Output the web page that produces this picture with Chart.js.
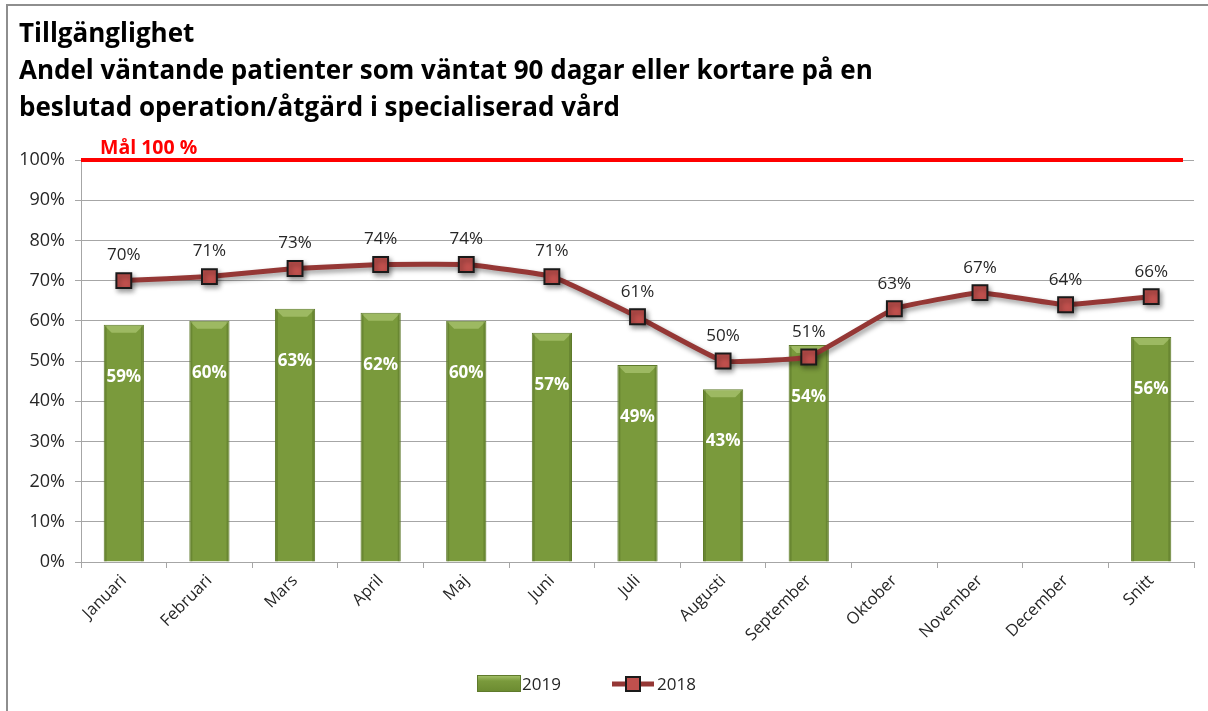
<!DOCTYPE html>
<html>
<head>
<meta charset="utf-8">
<script src="https://cdn.jsdelivr.net/npm/chart.js@4/dist/chart.umd.min.js"></script>
<style>
  html, body { margin: 0; padding: 0; background: #fff; }
  canvas { display: block; }
</style>
</head>
<body>
<canvas id="tillganglighet" width="1208" height="711"></canvas>
<script>
// Months plus the yearly average column
const months = ['Januari', 'Februari', 'Mars', 'April', 'Maj', 'Juni', 'Juli', 'Augusti',
  'September', 'Oktober', 'November', 'December', 'Snitt'];
// Share of patients waiting 90 days or less (%)
const values2019 = [59, 60, 63, 62, 60, 57, 49, 43, 54, null, null, null, 56];
const values2018 = [70, 71, 73, 74, 74, 71, 61, 50, 51, 63, 67, 64, 66];
const yTicks = [0, 10, 20, 30, 40, 50, 60, 70, 80, 90, 100];
const goal = 100;

const titleLines = [
  'Tillgänglighet',
  'Andel väntande patienter som väntat 90 dagar eller kortare på en',
  'beslutad operation/åtgärd i specialiserad vård'
];

const FONT = '"Open Sans", Lato, sans-serif';
const barGreen = '#7a9a3c';
const lineRed = '#953735';
const markerRed = '#c0504d';
const textDark = '#262626';

// white background, frame and the title block
const frame = {
  id: 'frame',
  beforeDraw(chart) {
    const c = chart.ctx;
    c.save();
    c.fillStyle = '#fff';
    c.fillRect(0, 0, chart.width, chart.height);
    c.strokeStyle = '#8e8e8e';
    c.lineWidth = 2;
    c.beginPath();
    c.moveTo(7, chart.height);
    c.lineTo(7, 5);
    c.lineTo(chart.width, 5);
    c.stroke();
    c.fillStyle = '#000';
    c.font = 'bold 26px ' + FONT;
    c.textBaseline = 'middle';
    titleLines.forEach((t, i) => c.fillText(t, 19, 35 + i * 37));
    c.restore();
  }
};

// goal line at 100 %
const goalLine = {
  id: 'goalLine',
  afterDatasetsDraw(chart) {
    const c = chart.ctx, a = chart.chartArea;
    const y = chart.scales.y.getPixelForValue(goal);
    c.save();
    c.strokeStyle = '#ff0000';
    c.lineWidth = 4;
    c.beginPath();
    c.moveTo(a.left, y);
    c.lineTo(a.right - 11, y);
    c.stroke();
    c.fillStyle = '#ff0000';
    c.font = 'bold 19.5px ' + FONT;
    c.textBaseline = 'middle';
    c.fillText('Mål 100 %', 100, y - 12);
    c.restore();
  }
};

// bevel on the bars, shadow under the 2018 line
const shading = {
  id: 'shading',
  beforeDatasetDraw(chart, args) {
    if (args.index !== 1) return;
    const c = chart.ctx;
    c.save();
    c.shadowColor = 'rgba(0,0,0,0.4)';
    c.shadowBlur = 5;
    c.shadowOffsetX = 2;
    c.shadowOffsetY = 3;
  },
  afterDatasetDraw(chart, args) {
    const c = chart.ctx;
    if (args.index === 1) {
      c.restore();
      return;
    }
    c.save();
    args.meta.data.forEach((bar, i) => {
      if (values2019[i] == null) return;
      const w = bar.width, x0 = bar.x - w / 2, x1 = bar.x + w / 2, t = bar.y;
      c.fillStyle = 'rgba(200,225,145,0.45)';
      c.beginPath();
      c.moveTo(x0 + 1, t + 1);
      c.lineTo(x1 - 1, t + 1);
      c.lineTo(x1 - 8, t + 8);
      c.lineTo(x0 + 8, t + 8);
      c.closePath();
      c.fill();
      c.fillStyle = 'rgba(40,60,10,0.2)';
      c.fillRect(x0 + 1, t + 1, 2, bar.base - t - 1);
      c.fillRect(x1 - 3, t + 1, 2, bar.base - t - 1);
    });
    c.restore();
  }
};

// value labels: white inside the bars, dark above the markers
const valueLabels = {
  id: 'valueLabels',
  afterDatasetsDraw(chart) {
    const c = chart.ctx, y = chart.scales.y;
    c.save();
    c.textAlign = 'center';
    c.textBaseline = 'middle';
    chart.getDatasetMeta(0).data.forEach((bar, i) => {
      const v = values2019[i];
      if (v == null) return;
      c.font = 'bold 17px ' + FONT;
      c.fillStyle = '#fff';
      c.fillText(v + '%', bar.x, y.getPixelForValue(v - 13));
    });
    chart.getDatasetMeta(1).data.forEach((pt, i) => {
      c.font = '17px ' + FONT;
      c.fillStyle = textDark;
      c.fillText(values2018[i] + '%', pt.x, pt.y - 25);
    });
    c.restore();
  }
};

// legend under the axis labels
const legendRow = {
  id: 'legendRow',
  afterDraw(chart) {
    const c = chart.ctx;
    c.save();
    const g = c.createLinearGradient(0, 675, 0, 692);
    g.addColorStop(0, '#a9c56e');
    g.addColorStop(0.35, barGreen);
    g.addColorStop(1, '#6b8a30');
    c.fillStyle = g;
    c.fillRect(477, 675, 44, 17);
    c.strokeStyle = '#5f7a2c';
    c.lineWidth = 1;
    c.strokeRect(477.5, 675.5, 43, 16);
    c.strokeStyle = lineRed;
    c.lineWidth = 5;
    c.beginPath();
    c.moveTo(612, 684);
    c.lineTo(654, 684);
    c.stroke();
    c.fillStyle = markerRed;
    c.fillRect(626, 677, 14, 14);
    c.strokeStyle = '#1a1a1a';
    c.lineWidth = 2;
    c.strokeRect(626, 677, 14, 14);
    c.fillStyle = textDark;
    c.font = '17px ' + FONT;
    c.textBaseline = 'middle';
    c.fillText('2019', 522, 685);
    c.fillText('2018', 657, 685);
    c.restore();
  }
};

const ctx = document.getElementById('tillganglighet').getContext('2d');

const barFill = (context) => {
  const bar = context.element;
  if (!bar || bar.width == null || isNaN(bar.x)) return barGreen;
  const g = context.chart.ctx.createLinearGradient(bar.x - bar.width / 2, 0, bar.x + bar.width / 2, 0);
  g.addColorStop(0, '#6e8d33');
  g.addColorStop(0.5, '#80a041');
  g.addColorStop(1, '#6e8d33');
  return g;
};

new Chart(ctx, {
  type: 'bar',
  data: {
    labels: months,
    datasets: [{
      label: '2019',
      data: values2019,
      backgroundColor: barFill,
      borderColor: '#5f7a2c',
      borderWidth: 1,
      barPercentage: 0.94,
      categoryPercentage: 0.5,
      order: 2
    }, {
      type: 'line',
      label: '2018',
      data: values2018,
      borderColor: lineRed,
      borderWidth: 5,
      tension: 0.1,
      pointStyle: 'rect',
      pointRadius: 10.5,
      pointBackgroundColor: markerRed,
      pointBorderColor: '#1a1a1a',
      pointBorderWidth: 2,
      order: 1
    }]
  },
  options: {
    responsive: false,
    animation: false,
    layout: { padding: { top: 160, right: 14, bottom: 49, left: 0 } },
    plugins: {
      legend: { display: false },
      tooltip: { enabled: false }
    },
    scales: {
      x: {
        offset: true,
        grid: { display: true, drawOnChartArea: false, offset: true, tickLength: 6, color: '#a6a6a6' },
        border: { color: '#a6a6a6' },
        ticks: {
          color: textDark,
          font: { family: FONT, size: 16.5 },
          minRotation: 45,
          maxRotation: 45,
          padding: 3
        },
        afterFit(scale) { scale.height = 100; }
      },
      y: {
        min: 0,
        max: 100,
        afterBuildTicks(scale) { scale.ticks = yTicks.map(v => ({ value: v })); },
        grid: { color: '#a6a6a6', tickLength: 6 },
        border: { color: '#a6a6a6' },
        ticks: {
          color: textDark,
          font: { family: FONT, size: 18 },
          padding: 10,
          callback: v => v + '%'
        },
        afterFit(scale) { scale.width = 81; }
      }
    }
  },
  plugins: [frame, shading, goalLine, valueLabels, legendRow]
});
</script>
</body>
</html>
